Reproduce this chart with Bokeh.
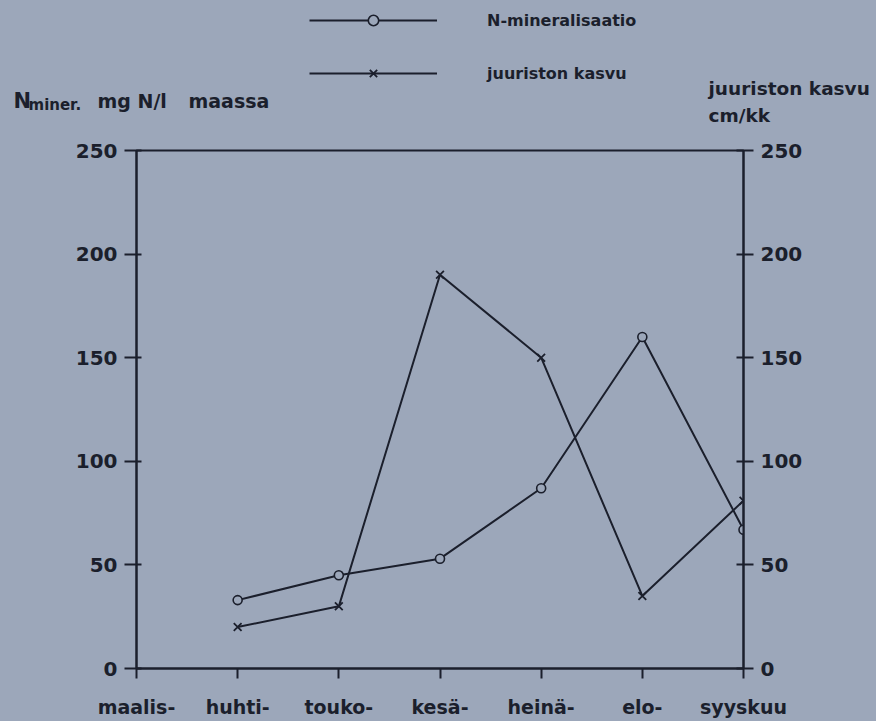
from bokeh.plotting import figure
from bokeh.models import (Range1d, LinearAxis, FixedTicker, Label, Legend, LegendItem,
                          GlobalInlineStyleSheet)
from bokeh.embed import file_html
from bokeh.resources import INLINE

# ---- data ----
months = ["maalis-", "huhti-", "touko-", "kesä-", "heinä-", "elo-", "syyskuu"]
month_pos = [0, 1, 2, 3, 4, 5, 6]
data_x = [1, 2, 3, 4, 5, 6]
n_mineral = [33, 45, 53, 87, 160, 67]        # mg N/l maassa (left axis)
root_growth = [20, 30, 190, 150, 35, 81]     # cm/kk (right axis)
y_ticks = [0, 50, 100, 150, 200, 250]

BG = "#9ca7ba"
INK = "#1b1f2c"
FONT = "DejaVu Sans"
W = 876
HEAD_H = 126
MAIN_H = 594

# ---------------- header (legend + axis titles) ----------------
head = figure(width=W, height=HEAD_H, x_range=Range1d(0, W), y_range=Range1d(0, HEAD_H),
              output_backend="svg", toolbar_location=None, min_border=0,
              x_axis_location=None, y_axis_location=None,
              background_fill_color=BG, border_fill_color=BG, outline_line_color=None)
head.grid.visible = False
head.stylesheets = [GlobalInlineStyleSheet(css="body { background-color: %s; }" % BG)]

# legend proxies (hidden; only their style is shown in the legend)
hl1 = head.line(data_x, n_mineral, line_color=INK, line_width=2, visible=False)
hm1 = head.scatter(data_x, n_mineral, marker="circle", size=9, fill_color=BG,
                   line_color=INK, line_width=1.6, visible=False)
hl2 = head.line(data_x, root_growth, line_color=INK, line_width=2, visible=False)
hm2 = head.scatter(data_x, root_growth, marker="x", size=11, line_color=INK,
                   line_width=1.8, visible=False)

legend = Legend(items=[LegendItem(label="N-mineralisaatio", renderers=[hl1, hm1]),
                       LegendItem(label="juuriston kasvu", renderers=[hl2, hm2])],
                location=(309, HEAD_H - 86), orientation="vertical",
                glyph_width=128, glyph_height=26, label_standoff=50, spacing=27,
                padding=0, margin=0, border_line_color=None,
                background_fill_alpha=0, inactive_fill_alpha=0,
                label_text_font=FONT, label_text_font_style="bold",
                label_text_font_size="16px", label_text_color=INK)
head.add_layout(legend, "center")


def lab(x, y_page, txt, size):
    head.add_layout(Label(x=x, y=HEAD_H - y_page, text=txt,
                          text_font=FONT, text_font_style="bold", text_font_size=size,
                          text_color=INK, text_baseline="alphabetic", text_align="left"))


lab(13, 100, "N", "21px")
lab(28, 104, "miner.", "15px")
lab(97, 100, "mg N/l", "19px")
lab(188, 100, "maassa", "19px")
lab(708, 88, "juuriston kasvu", "18.5px")
lab(708, 115, "cm/kk", "18.5px")

# ---------------- main chart ----------------
p = figure(width=W, height=MAIN_H, x_range=Range1d(0, 6), y_range=Range1d(0, 250),
           output_backend="svg", toolbar_location=None,
           min_border_left=136, min_border_right=W - 743, min_border_top=150 - HEAD_H,
           min_border_bottom=52,
           background_fill_color=BG, border_fill_color=BG,
           outline_line_color=INK, outline_line_width=2)
p.extra_y_ranges = {"right": Range1d(0, 250)}
p.grid.visible = False

xa = p.xaxis[0]
xa.ticker = FixedTicker(ticks=month_pos)
xa.major_label_overrides = {i: m for i, m in zip(month_pos, months)}
xa.major_tick_in = 0
xa.major_tick_out = 10
xa.minor_tick_line_color = None
xa.axis_line_width = 2
xa.axis_line_color = INK
xa.major_tick_line_width = 2
xa.major_tick_line_color = INK
xa.major_label_standoff = 17
xa.major_label_text_font = FONT
xa.major_label_text_font_style = "bold"
xa.major_label_text_font_size = "19px"
xa.major_label_text_color = INK

ya = p.yaxis[0]
ya.ticker = FixedTicker(ticks=y_ticks)
ya.major_tick_in = 5
ya.major_tick_out = 12
ya.minor_tick_line_color = None
ya.axis_line_width = 2
ya.axis_line_color = INK
ya.major_tick_line_width = 2
ya.major_tick_line_color = INK
ya.major_label_standoff = 7
ya.major_label_text_font = FONT
ya.major_label_text_font_style = "bold"
ya.major_label_text_font_size = "20px"
ya.major_label_text_color = INK

ra = LinearAxis(y_range_name="right", ticker=FixedTicker(ticks=y_ticks),
                major_tick_in=7, major_tick_out=10, minor_tick_line_color=None,
                axis_line_width=2, axis_line_color=INK,
                major_tick_line_width=2, major_tick_line_color=INK,
                major_label_standoff=7, major_label_text_font=FONT,
                major_label_text_font_style="bold", major_label_text_font_size="20px",
                major_label_text_color=INK)
p.add_layout(ra, "right")

p.line(data_x, n_mineral, line_color=INK, line_width=2)
p.scatter(data_x, n_mineral, marker="circle", size=9, fill_color=BG,
          line_color=INK, line_width=1.6)
p.line(data_x, root_growth, line_color=INK, line_width=2, y_range_name="right")
p.scatter(data_x, root_growth, marker="x", size=11, line_color=INK,
          line_width=1.8, y_range_name="right")

open("out.html", "w").write(file_html([head, p], INLINE))
